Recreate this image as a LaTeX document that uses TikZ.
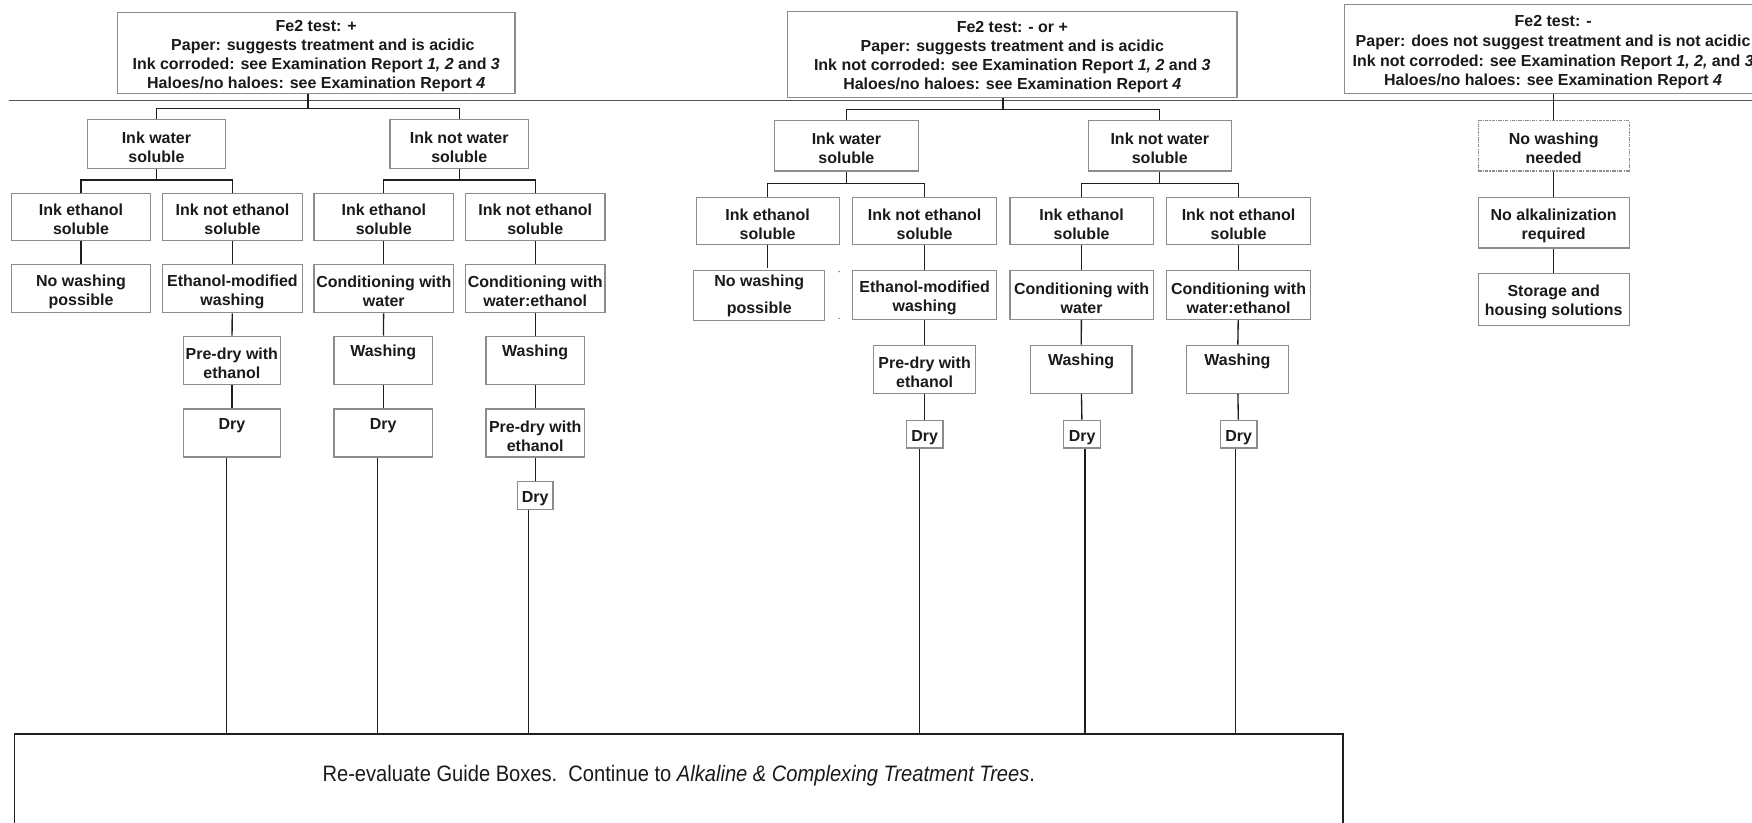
\documentclass[tikz,border=0pt]{standalone}
\usepackage{fontspec}
\setmainfont{Liberation Sans}
\newfontfamily\narrowfont[FakeStretch=0.9]{Liberation Sans}
\definecolor{boxgray}{HTML}{8C8C8C}
\definecolor{lnk}{HTML}{1E1E1E}
\definecolor{txt}{HTML}{1A1A1A}
\definecolor{rule}{HTML}{555555}
\newcommand\toppad{\rule{0pt}{15.5pt}}
\begin{document}
\begin{tikzpicture}[x=1pt,y=-1pt,
  box/.style={draw=boxgray, line width=1.1pt, fill=white, inner sep=0pt, align=center,
    text=txt, font=\fontsize{14.3}{17}\selectfont\bfseries},
  topbox/.style={box, font=\fontsize{14.3}{17}\selectfont\bfseries},
  dashbox/.style={box, dash pattern=on 3pt off 1pt on 1pt off 1pt},
  conn/.style={draw=lnk, line width=1.2pt},
  finalbox/.style={draw=lnk, line width=1.1pt, fill=white, inner sep=0pt},
  finaltext/.style={text=txt, inner sep=0pt, font=\narrowfont\fontsize{20}{24}\selectfont}]
\useasboundingbox (0,0) rectangle (1568,736);
\clip (0,0) rectangle (1568,736);

% long horizontal rule
\coordinate (ruleL) at (8,90);
\coordinate (ruleR) at (1575,90);
\draw[draw=rule, line width=1.5pt] (ruleL) -- (ruleR);

% ================= LEFT TREE =================
\node[topbox, minimum width=356, minimum height=73] (A) at (283,47.5)
  {\toppad Fe2 test: +\\ \hspace*{12pt}Paper: suggests treatment and is acidic\\
   Ink corroded: see Examination Report \textit{1, 2} and \textit{3}\\
   Haloes/no haloes: see Examination Report \textit{4}};
\node[box, minimum width=124, minimum height=44] (wsA) at (140,129) {\toppad Ink water\\soluble};
\node[box, minimum width=124, minimum height=44] (nwsA) at (411,129) {\toppad Ink not water\\soluble};

\node[box, minimum width=125, minimum height=42] (eA1) at (72.5,194) {\toppad Ink ethanol\\soluble};
\node[box, minimum width=125, minimum height=42] (neA1) at (208,194) {\toppad Ink not ethanol\\soluble};
\node[box, minimum width=125, minimum height=42] (eA2) at (343.5,194) {\toppad Ink ethanol\\soluble};
\node[box, minimum width=125, minimum height=42] (neA2) at (479,194) {\toppad Ink not ethanol\\soluble};

\node[box, minimum width=125, minimum height=43] (nwpA) at (72.5,258.5) {\toppad No washing\\possible};
\node[box, minimum width=125, minimum height=43] (emwA) at (208,258.5) {\toppad Ethanol-modified\\washing};
\node[box, minimum width=125, minimum height=43] (cwA) at (343.5,258.5) {\toppad Conditioning with\\water};
\node[box, minimum width=125, minimum height=43] (cweA) at (479,258.5) {\toppad Conditioning with\\water:ethanol};

\node[box, minimum width=87, minimum height=43] (pdA1) at (207.5,322.5) {\toppad Pre-dry with\\ethanol};
\node[box, minimum width=88, minimum height=43] (waA2) at (343,322.5) {\toppad Washing\\\strut};
\node[box, minimum width=88, minimum height=43] (waA3) at (479,322.5) {\toppad Washing\\\strut};

\node[box, minimum width=87, minimum height=43] (dA1) at (207.5,387.5) {\toppad Dry\\\strut};
\node[box, minimum width=88, minimum height=43] (dA2) at (343,387.5) {\toppad Dry\\\strut};
\node[box, minimum width=88, minimum height=43] (pdA3) at (479,387.5) {\toppad Pre-dry with\\ethanol};

\node[box, minimum width=32, minimum height=25] (dA3) at (479,443.5) {\toppad Dry};

% connectors left
\draw[conn] ([xshift=-7.5pt]A.south) -- ([xshift=-7.5pt]A.south |- 0,97);
\draw[conn] (wsA.north) -- (wsA.north |- 0,97) -- (nwsA.north |- 0,97) -- (nwsA.north);
\draw[conn] (wsA.south) -- (wsA.south |- 0,161);
\draw[conn] (eA1.north) -- (eA1.north |- 0,161) -- (neA1.north |- 0,161) -- (neA1.north);
\draw[conn] (nwsA.south) -- (nwsA.south |- 0,161);
\draw[conn] (eA2.north) -- (eA2.north |- 0,161) -- (neA2.north |- 0,161) -- (neA2.north);
\draw[conn] (eA1) -- (nwpA);
\draw[conn] (neA1) -- (emwA);
\draw[conn] (eA2) -- (cwA);
\draw[conn] (neA2) -- (cweA);
\draw[conn] (emwA) -- (pdA1);
\draw[conn] (cwA) -- (waA2);
\draw[conn] (cweA) -- (waA3);
\draw[conn] (pdA1) -- (dA1);
\draw[conn] (waA2) -- (dA2);
\draw[conn] (waA3) -- (pdA3);
\draw[conn] (pdA3) -- (dA3);

% ================= MIDDLE TREE =================
\node[topbox, minimum width=402, minimum height=77] (B) at (906,48.5)
  {\toppad Fe2 test: - or +\\ Paper: suggests treatment and is acidic\\
   Ink not corroded: see Examination Report \textit{1, 2} and \textit{3}\\
   Haloes/no haloes: see Examination Report \textit{4}};
\node[box, minimum width=129, minimum height=45] (wsB) at (757.5,130.5) {\toppad Ink water\\soluble};
\node[box, minimum width=128, minimum height=45] (nwsB) at (1038,130.5) {\toppad Ink not water\\soluble};

\node[box, minimum width=128, minimum height=42] (eB1) at (687,198) {\toppad Ink ethanol\\soluble};
\node[box, minimum width=129, minimum height=42] (neB1) at (827.5,198) {\toppad Ink not ethanol\\soluble};
\node[box, minimum width=128, minimum height=42] (eB2) at (968,198) {\toppad Ink ethanol\\soluble};
\node[box, minimum width=129, minimum height=42] (neB2) at (1108.5,198) {\toppad Ink not ethanol\\soluble};

\node[box, minimum width=117, minimum height=45, font=\fontsize{14.3}{24}\selectfont\bfseries]
  (nwpB) at (679.5,264.5) {No washing\\possible};
\node[box, minimum width=129, minimum height=44] (emwB) at (827.5,264) {\toppad Ethanol-modified\\washing};
\node[box, minimum width=128, minimum height=44] (cwB) at (968,264) {\toppad Conditioning with\\water};
\node[box, minimum width=129, minimum height=44] (cweB) at (1108.5,264) {\toppad Conditioning with\\water:ethanol};
\coordinate (tick1) at (751,243);
\coordinate (tick2) at (751,285);
\fill[boxgray] (tick1) circle (0.8);
\fill[boxgray] (tick2) circle (0.8);

\node[box, minimum width=91, minimum height=43] (pdB1) at (827.5,330.5) {\toppad Pre-dry with\\ethanol};
\node[box, minimum width=91, minimum height=43] (waB2) at (967.5,330.5) {\toppad Washing\\\strut};
\node[box, minimum width=91, minimum height=43] (waB3) at (1107.5,330.5) {\toppad Washing\\\strut};

\node[box, minimum width=33, minimum height=25] (dB1) at (827.5,388.5) {\toppad Dry};
\node[box, minimum width=33, minimum height=25] (dB2) at (968.5,388.5) {\toppad Dry};
\node[box, minimum width=33, minimum height=25] (dB3) at (1108.5,388.5) {\toppad Dry};

% connectors middle
\draw[conn] ([xshift=-8.5pt]B.south) -- ([xshift=-8.5pt]B.south |- 0,98);
\draw[conn] (wsB.north) -- (wsB.north |- 0,98) -- (nwsB.north |- 0,98) -- (nwsB.north);
\draw[conn] (wsB.south) -- (wsB.south |- 0,164);
\draw[conn] (eB1.north) -- (eB1.north |- 0,164) -- (neB1.north |- 0,164) -- (neB1.north);
\draw[conn] (nwsB.south) -- (nwsB.south |- 0,164);
\draw[conn] (eB2.north) -- (eB2.north |- 0,164) -- (neB2.north |- 0,164) -- (neB2.north);
\draw[conn] (eB1.south) -- ([yshift=2pt]eB1.south |- nwpB.north);
\draw[conn] (neB1) -- (emwB);
\draw[conn] (eB2) -- (cwB);
\draw[conn] (neB2) -- (cweB);
\draw[conn] (emwB) -- (pdB1);
\draw[conn] (cwB) -- (waB2);
\draw[conn] (cweB) -- (waB3);
\draw[conn] (pdB1) -- (dB1);
\draw[conn] (waB2) -- (dB2);
\draw[conn] (waB3) -- (dB3);

% ================= RIGHT TREE =================
\node[topbox, minimum width=374, minimum height=80, font=\fontsize{14.3}{17.7}\selectfont\bfseries]
  (C) at (1390,44)
  {\toppad Fe2 test: -\\ Paper: does not suggest treatment and is not acidic\\
   Ink not corroded: see Examination Report \textit{1, 2,} and \textit{3}\\
   Haloes/no haloes: see Examination Report \textit{4}};
\node[dashbox, minimum width=135, minimum height=45] (nwn) at (1390.5,130.5) {\toppad No washing\\needed};
\node[box, minimum width=135, minimum height=45] (nar) at (1390.5,199.5) {\toppad No alkalinization\\required};
\node[box, minimum width=135, minimum height=46] (shs) at (1390.5,268) {\toppad Storage and\\housing solutions};
\draw[conn] (C.south -| nwn.north) -- (nwn.north);
\draw[conn] (nwn) -- (nar);
\draw[conn] (nar) -- (shs);

% ================= BOTTOM BOX =================
\node[finalbox, minimum width=1189, minimum height=110] (final) at (607.5,712) {};
\node[finaltext] (fintxt) at (607.5,694.5)
  {Re-evaluate Guide Boxes.\ \ Continue to \textit{Alkaline \& Complexing Treatment Trees}.};

\draw[conn] ([xshift=-4.5pt]dA1.south) -- ([xshift=-4.5pt]dA1.south |- final.north);
\draw[conn] ([xshift=-5pt]dA2.south) -- ([xshift=-5pt]dA2.south |- final.north);
\draw[conn] ([xshift=-6pt]dA3.south) -- ([xshift=-6pt]dA3.south |- final.north);
\draw[conn] ([xshift=-4.5pt]dB1.south) -- ([xshift=-4.5pt]dB1.south |- final.north);
\draw[conn] ([xshift=2.5pt]dB2.south) -- ([xshift=2.5pt]dB2.south |- final.north);
\draw[conn] ([xshift=-2.5pt]dB3.south) -- ([xshift=-2.5pt]dB3.south |- final.north);
\end{tikzpicture}
\end{document}
